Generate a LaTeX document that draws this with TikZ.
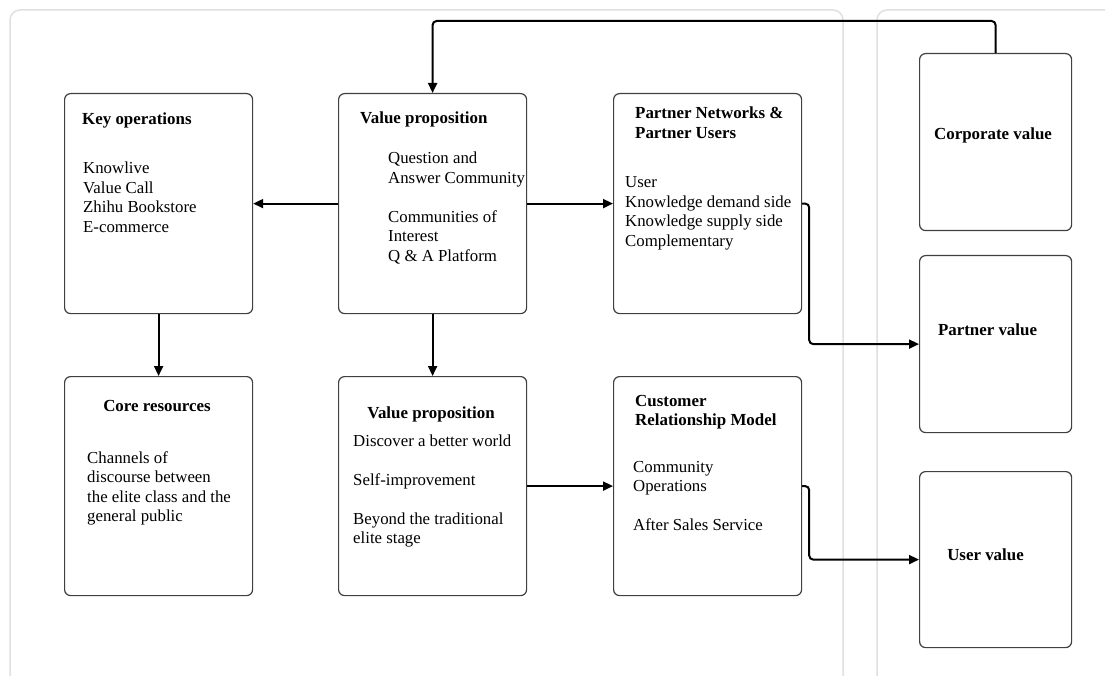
\documentclass[tikz,border=0pt]{standalone}
\usepackage{fontspec}
\setmainfont{Liberation Serif}
\usetikzlibrary{arrows.meta}
\newcommand\txtblk[1]{\begin{tabular}[t]{@{}l@{}}#1\end{tabular}}
\begin{document}
\begin{tikzpicture}[x=1pt,y=-1pt,
 box/.style={draw=black!75, line width=1.2pt, rounded corners=6pt, fill=white, inner sep=0pt, anchor=north west},
 stdbox/.style={box, minimum width=188pt, minimum height=220pt},
 valbox/.style={box, minimum width=152pt, minimum height=177pt},
 panel/.style={draw=black!12, line width=1.5pt, rounded corners=10pt},
 conn/.style={draw=black, line width=2pt, rounded corners=4pt, -{Triangle[length=10pt,width=9pt]}},
 txt/.style={anchor=base west, inner sep=0pt, font=\fontsize{16.8}{19.5}\selectfont},
 ttl/.style={txt, font=\fontsize{16.9}{19.5}\selectfont\bfseries}
]
\useasboundingbox (0,0) rectangle (1105,676);
\fill[white] (0,0) rectangle (1105,676);
% background panels
\draw[panel] (10,680) -- (10,10) -- (843,10) -- (843,680);
\draw[panel] (877,680) -- (877,10) -- (1112,10);
% boxes
\node[stdbox] (ko) at (64,93) {};
\node[stdbox] (vp) at (338,93) {};
\node[stdbox] (pn) at (613,93) {};
\node[stdbox, minimum height=219pt] (cr) at (64,376) {};
\node[stdbox, minimum height=219pt] (vp2) at (338,376) {};
\node[stdbox, minimum height=219pt] (crm) at (613,376) {};
\node[valbox] (cv) at (919,53) {};
\node[valbox] (pv) at (919,255) {};
\node[valbox, minimum height=176pt] (uv) at (919,471) {};
% texts
\node[ttl] (kot) at (82,124.3) {Key operations};
\node[txt] (kob) at (83,174) {\txtblk{Knowlive\\Value Call\\Zhihu Bookstore\\E-commerce}};
\node[ttl] (vpt) at (360,124) {Value proposition};
\node[txt] (vpb) at (388,164) {\txtblk{Question and\\Answer Community\\ \\Communities of\\Interest\\Q \& A Platform}};
\node[ttl] (pnt) at (635,119) {\txtblk{Partner Networks \&\\Partner Users}};
\node[txt] (pnb) at (625,188) {\txtblk{User\\Knowledge demand side\\Knowledge supply side\\Complementary}};
\node[ttl, anchor=base] (crt) at (157,411) {Core resources};
\node[txt] (crb) at (87,463) {\txtblk{Channels of\\discourse between\\the elite class and the\\general public}};
\node[ttl, anchor=base] (vp2t) at (431,418) {Value proposition};
\node[txt] (vp2b) at (353,446) {\txtblk{Discover a better world\\ \\Self-improvement\\ \\Beyond the traditional\\elite stage}};
\node[ttl] (crmt) at (635,406) {\txtblk{Customer\\Relationship Model}};
\node[txt] (crmb) at (633,472) {\txtblk{Community\\Operations\\ \\After Sales Service}};
\node[ttl, anchor=base] (cvt) at (993,140) {Corporate value};
\node[ttl, anchor=base] (pvt) at (987.5,335) {Partner value};
\node[ttl, anchor=base] (uvt) at (985.5,560) {User value};
% connectors
\draw[conn] (vp.west) -- (ko.east);
\draw[conn] (vp.east) -- (pn.west);
\draw[conn] (ko.south) -- (cr.north);
\draw[conn] (vp.south) -- (vp2.north);
\draw[conn] (vp2.east) -- (crm.west);
\draw[conn] (cv.north) -- ++(0,-32) -| (vp.north);
\draw[conn] (pn.east) -- ++(7,0) |- (pv.west);
\draw[conn] (crm.east) -- ++(7,0) |- (uv.west);
\end{tikzpicture}
\end{document}
